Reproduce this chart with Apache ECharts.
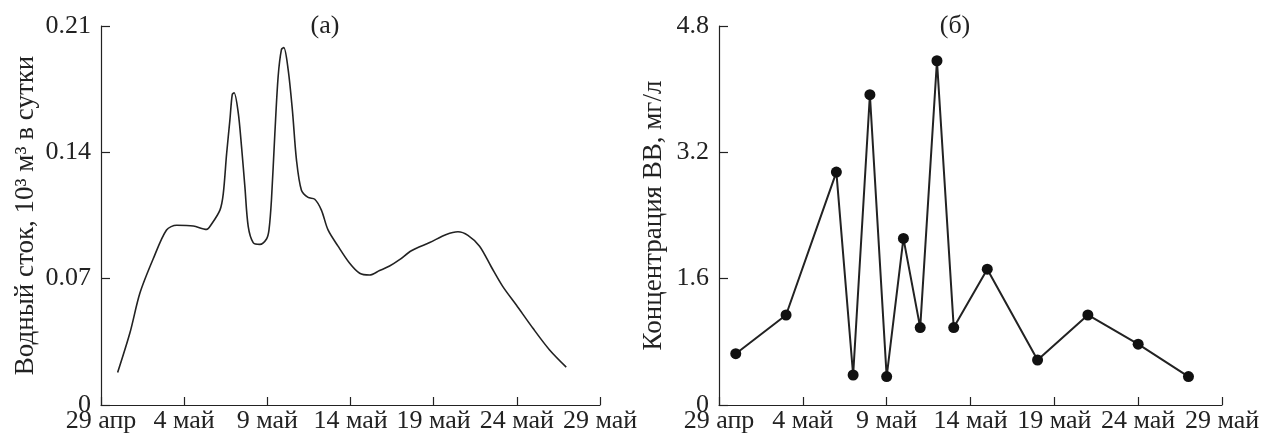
<!DOCTYPE html>
<html>
<head>
<meta charset="utf-8">
<script src="https://cdn.jsdelivr.net/npm/echarts@6/dist/echarts.min.js"></script>
<style>
html,body{margin:0;padding:0;background:#fff;}
#main{width:1264px;height:439px;}
</style>
</head>
<body>
<div id="main"></div>
<script>
// X tick labels (days from 29 Apr, every 5 days)
const xTickLabels = ['29 апр', '4 май', '9 май', '14 май', '19 май', '24 май', '29 май'];
const yTicksA = ['0', '0.07', '0.14', '0.21'];
const yTicksB = ['0', '1.6', '3.2', '4.8'];

// Panel (a): water runoff, days since 29 Apr
const flowDays = [1.0, 1.74, 2.34, 3.14, 3.94, 4.55, 5.55, 6.35, 6.6, 7.15, 7.35, 7.55, 7.75, 7.89, 8.0, 8.25, 8.45, 8.65, 8.85, 9.15, 9.55, 9.95, 10.1, 10.25, 10.45, 10.65, 10.85, 10.99, 11.25, 11.51, 11.75, 12.05, 12.45, 12.85, 13.25, 13.65, 14.25, 14.95, 15.55, 16.15, 16.75, 17.35, 17.95, 18.66, 19.76, 20.76, 21.46, 22.06, 22.76, 23.46, 24.16, 24.97, 25.97, 26.97, 27.97];
const flowValues = [0.018, 0.040, 0.062, 0.081, 0.097, 0.0996, 0.0992, 0.0973, 0.0996, 0.108, 0.117, 0.139, 0.158, 0.172, 0.173, 0.162, 0.143, 0.121, 0.099, 0.090, 0.089, 0.092, 0.097, 0.114, 0.150, 0.182, 0.197, 0.198, 0.186, 0.163, 0.136, 0.119, 0.115, 0.114, 0.108, 0.097, 0.088, 0.0785, 0.073, 0.072, 0.0745, 0.077, 0.0805, 0.0855, 0.090, 0.0945, 0.096, 0.094, 0.088, 0.0766, 0.0656, 0.0554, 0.0425, 0.0305, 0.021];

// Panel (б): suspended sediment concentration
const concDays = [1, 4, 7, 8, 9, 10, 11, 12, 13, 14, 16, 19, 22, 25, 28];
const concValues = [0.65, 1.14, 2.95, 0.38, 3.93, 0.36, 2.11, 0.98, 4.36, 0.98, 1.72, 0.57, 1.14, 0.77, 0.36];

const font = 'Liberation Serif';
const ink = '#222';

function xAxis(gridIndex) {
  return {
    type: 'value', gridIndex: gridIndex, min: 0, max: 30, interval: 5,
    axisLine: { show: true, lineStyle: { color: ink, width: 1.2 } },
    axisTick: { show: true, inside: true, length: 8, lineStyle: { color: ink, width: 1.2 } },
    axisLabel: { color: ink, fontFamily: font, fontSize: 26, margin: 3,
      formatter: v => xTickLabels[Math.round(v / 5)] },
    splitLine: { show: false }
  };
}
function yAxis(gridIndex, max, interval, labels, name, gap) {
  return {
    type: 'value', gridIndex: gridIndex, min: 0, max: max, interval: interval,
    name: name, nameLocation: 'middle', nameGap: gap, nameRotate: 90,
    nameTextStyle: { color: ink, fontFamily: font, fontSize: 27 },
    axisLine: { show: true, lineStyle: { color: ink, width: 1.2 } },
    axisTick: { show: true, inside: true, length: 9, lineStyle: { color: ink, width: 1.2 } },
    axisLabel: { color: ink, fontFamily: font, fontSize: 26, margin: 10,
      formatter: v => labels[Math.round(v / interval)] },
    splitLine: { show: false }
  };
}

const chart = echarts.init(document.getElementById('main'), null, { renderer: 'canvas' });
chart.setOption({
  animation: false,
  backgroundColor: '#fff',
  title: [
    { text: '(а)', left: 320, top: 8, textAlign: 'center',
      textStyle: { fontFamily: font, fontSize: 26, fontWeight: 'normal', color: ink } },
    { text: '(б)', left: 950, top: 8, textAlign: 'center',
      textStyle: { fontFamily: font, fontSize: 26, fontWeight: 'normal', color: ink } }
  ],
  grid: [
    { left: 101, right: 664, top: 26, bottom: 34 },
    { left: 719, right: 42, top: 26, bottom: 34 }
  ],
  xAxis: [xAxis(0), xAxis(1)],
  yAxis: [
    yAxis(0, 0.21, 0.07, yTicksA, 'Водный сток, 10³ м³ в сутки', 62),
    yAxis(1, 4.8, 1.6, yTicksB, 'Концентрация ВВ, мг/л', 52)
  ],
  series: [
    { type: 'line', xAxisIndex: 0, yAxisIndex: 0, smooth: 0.3, showSymbol: false,
      lineStyle: { color: ink, width: 1.6 },
      data: flowDays.map((d, i) => [d, flowValues[i]]) },
    { type: 'line', xAxisIndex: 1, yAxisIndex: 1, symbol: 'circle', symbolSize: 11,
      itemStyle: { color: '#111' }, lineStyle: { color: ink, width: 2 },
      data: concDays.map((d, i) => [d, concValues[i]]) }
  ]
});
</script>
</body>
</html>
